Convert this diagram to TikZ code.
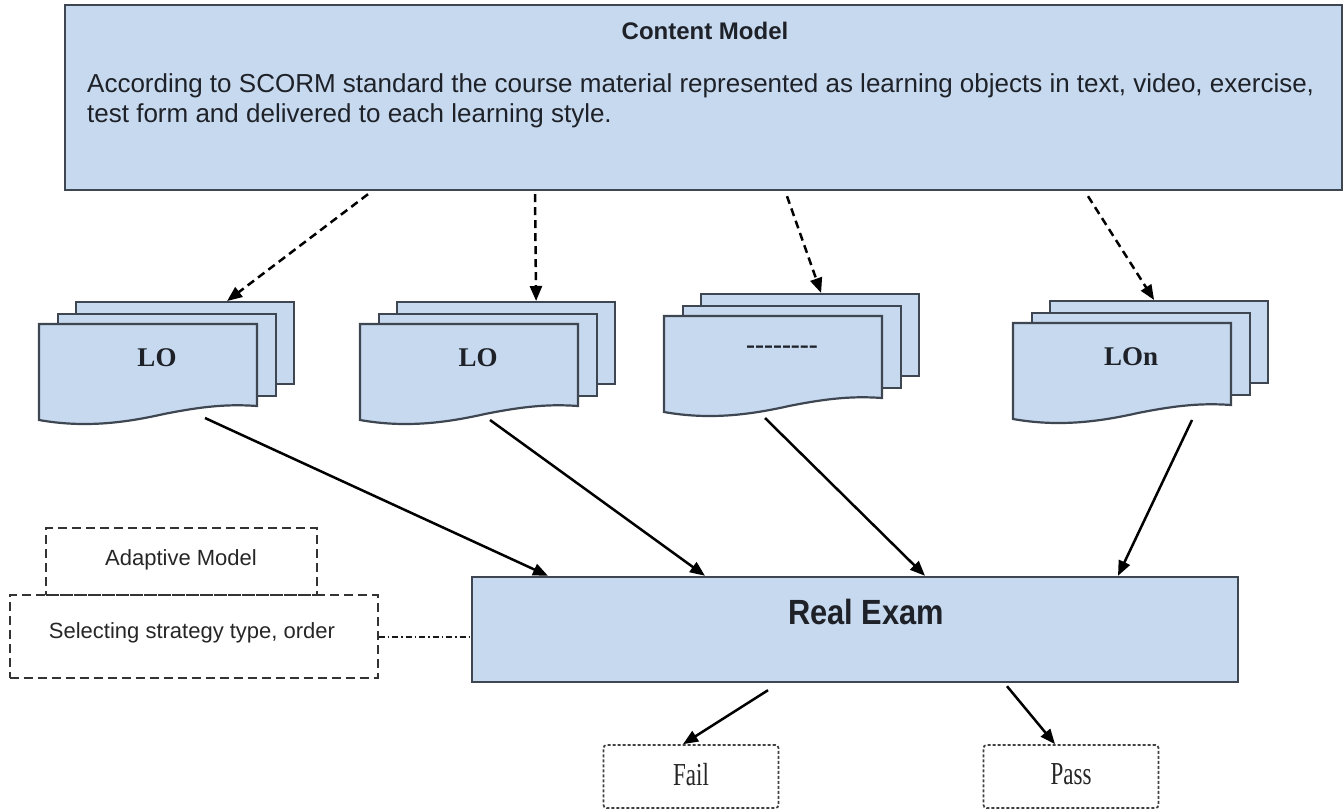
\documentclass[tikz,border=0pt]{standalone}
\usepackage{fontspec}
\setmainfont{Liberation Sans}
\newfontfamily\lsans{Liberation Sans}
\newfontfamily\lsanscond{Liberation Sans}[FakeStretch=0.88]
\newfontfamily\lserif{Liberation Serif}
\newfontfamily\lserifcond{Liberation Serif}[FakeStretch=0.72]
\usetikzlibrary{arrows.meta}
\definecolor{boxfill}{RGB}{199,217,239}
\definecolor{boxline}{RGB}{62,70,82}
\definecolor{txt}{RGB}{30,34,40}
\tikzset{
  bluebox/.style={draw=boxline, fill=boxfill, line width=2.4pt, inner sep=0pt},
  page/.style={draw=boxline, fill=boxfill, line width=2.2pt, inner sep=0pt, minimum width=218pt, minimum height=82pt, anchor=north west},
  pagepath/.style={draw=boxline, fill=boxfill, line width=2.2pt},
  lotext/.style={font=\lserif\bfseries\fontsize{27}{30}\selectfont, text=txt},
  dasharrow/.style={line width=2.5pt, dash pattern=on 8pt off 5pt, -{Triangle[length=15pt,width=12pt]}},
  solidarrow/.style={line width=2.5pt, -{Triangle[length=15pt,width=12pt]}},
  adaptbox/.style={draw=black!80, line width=2pt, dash pattern=on 9pt off 5pt, inner sep=0pt},
  resbox/.style={draw=black!75, line width=1.7pt, dash pattern=on 3pt off 2pt, rounded corners=3pt, inner sep=0pt, minimum width=175pt, minimum height=63pt},
  dashdot/.style={line width=2pt, dash pattern=on 6pt off 3pt on 1.5pt off 3pt, draw=black!90}
}
\newcommand{\lostack}[4]{%
  \node[page] (#1b) at (#2+36,#3-23) {};
  \node[page] (#1m) at (#2+18,#3-11.5) {};
  \path[pagepath] (#2,#3) -- (#2+218,#3) -- (#2+218,#3+82)
     .. controls (#2+190,#3+80) and (#2+165,#3+82) .. (#2+125,#3+90)
     .. controls (#2+85,#3+99) and (#2+45,#3+104) .. (#2,#3+96) -- cycle;
  \node[lotext] (#1) at (#2+118,#3+34) {#4};
}
\begin{document}
\begin{tikzpicture}[x=1pt,y=-1pt]
\useasboundingbox (0,0) rectangle (1344,811);
% content model
\node[bluebox, minimum width=1277pt, minimum height=185pt] (content) at (703.5,97.5) {};
\node[font=\lsans\bfseries\fontsize{24}{28}\selectfont, text=txt] (ctitle) at (705,31) {Content Model};
\node[font=\lsans\fontsize{26}{30}\selectfont, text=txt, anchor=north west, align=left, inner sep=0pt] (cbody) at (87,73)
 {According to SCORM standard the course material represented as learning objects in text, video, exercise,\\test form and delivered to each learning style.};
% LO stacks
\lostack{s1}{39}{324}{LO}
\lostack{s2}{360}{324}{LO}
\lostack{s3}{664}{316}{--------}
\lostack{s4}{1013}{323}{LOn}
% real exam
\node[bluebox, minimum width=766pt, minimum height=105pt] (exam) at (855,629.5) {};
\node[font=\lsanscond\bfseries\fontsize{35}{40}\selectfont, text=txt] (examtxt) at (866,612) {Real Exam};
% adaptive model
\node[adaptbox, minimum width=271pt, minimum height=67pt] (adapt) at (181.5,561.5) {};
\node[font=\lsans\fontsize{22}{26}\selectfont, text=black!85] (adapttxt) at (181,560) {Adaptive Model};
\node[adaptbox, minimum width=368pt, minimum height=83pt] (sel) at (193.5,636.5) {};
\node[font=\lsans\fontsize{22}{26}\selectfont, text=black!85] (seltxt) at (192,633) {Selecting strategy type, order};
% fail / pass
\node[resbox] (fail) at (691,776.5) {};
\node[font=\lserifcond\fontsize{32}{36}\selectfont, text=black!85] (failtxt) at (691,775) {Fail};
\node[resbox] (pass) at (1071,776.5) {};
\node[font=\lserifcond\fontsize{32}{36}\selectfont, text=black!85] (passtxt) at (1071,774) {Pass};
% dashed arrows
\draw[dasharrow] ([xshift=-335.5pt,yshift=-3pt]content.south) -- ([xshift=42pt]s1b.north);
\draw[dasharrow] ([xshift=-168.5pt,yshift=-3pt]content.south) -- ([xshift=30pt]s2b.north);
\draw[dasharrow] ([xshift=83.5pt,yshift=-5pt]content.south) -- ([xshift=11pt]s3b.north);
\draw[dasharrow] ([xshift=384.5pt,yshift=-5pt]content.south) -- ([xshift=-5pt]s4b.north);
% solid arrows
\coordinate (o1) at (205,418);
\coordinate (o2) at (490,420);
\coordinate (o3) at (765,418);
\coordinate (o4) at (1192,420);
\draw[solidarrow] (o1) -- ([xshift=-307pt]exam.north);
\draw[solidarrow] (o2) -- ([xshift=-150pt]exam.north);
\draw[solidarrow] (o3) -- ([xshift=70pt]exam.north);
\draw[solidarrow] (o4) -- ([xshift=263pt]exam.north);
\draw[solidarrow] ([xshift=-87pt,yshift=-7pt]exam.south) -- ([xshift=-8pt]fail.north);
\draw[solidarrow] ([xshift=152pt,yshift=-3pt]exam.south) -- ([xshift=-16pt]pass.north);
% dash-dot link
\draw[dashdot] (sel.east) -- (sel.east -| exam.west);
\end{tikzpicture}
\end{document}
